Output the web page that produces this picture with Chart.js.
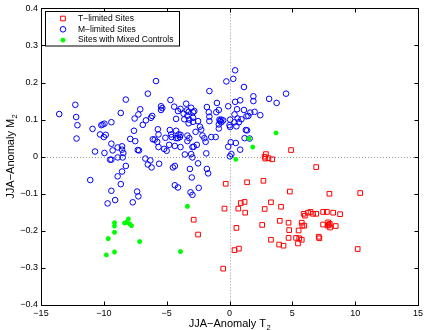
<!DOCTYPE html>
<html>
<head>
<meta charset="utf-8">
<script src="https://cdn.jsdelivr.net/npm/chart.js@4.4.1/dist/chart.umd.min.js"></script>
<style>
  body { margin: 0; background: #fff; }
  canvas { display: block; }
</style>
</head>
<body>
<canvas id="anomalyChart" width="427" height="330"></canvas>
<script>
"use strict";

// T-limited sites
const tX = [2.8, 2.9, 3.1, 3.4, 2.85, 4.9, 6.9, -0.3, 1.4, 2.7, 4.8, 7.95, 10.4, -0.4, 0.7, 0.9, 1.2, 1.25, 2.8, 3.3,
  4.1, -2.85, -2.5, 0.55, -0.5, 0.4, 0.75, 2.6, 3.3, 4.0, 3.95, 4.3, 4.7, 4.75, 4.7, 5.3, 5.5, 5.45, 5.75, 5.9,
  6.0, 5.8, 5.95, 5.75, 5.55, 6.45, 6.65, 6.9, 6.25, 7.1, 7.15, 7.45, 7.75, 8.25, 8.8, 7.45, 7.85, 7.98, 7.8, 8.0,
  8.45, 10.2, 7.9];
const tY = [0.0, 0.007, -0.004, -0.007, -0.005, 0.018, -0.028, -0.073, -0.069, -0.065, -0.094, -0.1, -0.098, -0.14, -0.14, -0.125, -0.122, -0.151, -0.141, -0.123,
  -0.135, -0.17, -0.21, -0.192, -0.302, -0.252, -0.248, -0.184, -0.224, -0.173, -0.237, -0.24, -0.178, -0.198, -0.219, -0.219, -0.199, -0.234, -0.178, -0.154,
  -0.159, -0.186, -0.186, -0.224, -0.22, -0.149, -0.154, -0.154, -0.151, -0.216, -0.22, -0.149, -0.149, -0.151, -0.155, -0.183, -0.177, -0.181, -0.186, -0.191,
  -0.187, -0.249, -0.184];

// M-limited sites
const mX = [-13.55, -12.27, -12.2, -12.1, -12.17, -10.9, -11.08, -10.7, -10.3, -10.2, -10.1, -9.95, -10.0, -9.85, -9.95, -9.7, -9.4, -9.4, -9.3, -9.5,
  -9.4, -9.4, -9.1, -8.9, -8.9, -8.9, -8.65, -8.55, -8.55, -8.45, -8.5, -8.55, -8.65, -8.25, -8.25, -7.9, -7.7, -7.6, -7.55, -7.5,
  -7.35, -7.25, -7.3, -7.2, -7.25, -7.1, -6.9, -6.65, -6.7, -6.5, -6.5, -6.25, -6.15, -6.3, -6.2, -6.1, -5.95, -5.85, -5.75, -5.65,
  -5.7, -5.65, -5.6, -5.45, -5.45, -5.35, -5.1, -5.2, -5.0, -4.7, -4.75, -4.65, -4.8, -4.6, -4.5, -4.35, -4.4, -4.25, -4.25, -4.25,
  -4.35, -4.1, -4.05, -4.1, -3.95, -3.9, -4.35, -4.1, -3.9, -3.9, -3.65, -3.6, -3.55, -3.45, -3.4, -3.35, -3.35, -3.35, -3.25, -3.25,
  -3.2, -3.2, -3.15, -3.05, -3.05, -3.0, -2.95, -2.95, -2.9, -2.9, -2.9, -2.8, -2.85, -2.95, -2.7, -2.6, -2.5, -2.5, -2.45, -2.35,
  -2.25, -2.15, -2.0, -1.9, -1.85, -1.8, -1.8, -1.7, -1.6, -1.65, -1.6, -1.6, -1.45, -1.1, -1.0, -1.05, -0.85, -0.8, -0.85, -0.85,
  -0.75, -0.65, -0.65, -0.5, -0.25, -0.1, -0.1, 0.0, 0.05, 0.05, 0.1, 0.03, 0.15, 0.3, 0.45, 0.45, 0.4, 0.4, 0.5, 0.55,
  0.6, 0.65, 0.75, 0.85, 0.85, 0.95, 1.15, 1.15, 1.2, 1.3, 1.4, 1.5, 1.6, 1.65, 1.9, 1.9, 2.0, 2.45, 3.15, 3.75,
  4.5, 1.35, -3.1];
const mY = [0.115, 0.14, 0.107, 0.085, 0.049, 0.075, -0.063, 0.014, 0.06, 0.085, 0.087, 0.089, 0.053, 0.059, 0.01, -0.126, 0.093, 0.035, 0.017, -0.008,
  -0.008, -0.092, -0.117, 0.025, -0.002, -0.053, 0.118, 0.028, 0.019, 0.01, -0.002, -0.04, -0.074, 0.154, -0.025, 0.048, -0.123, 0.07, 0.103, 0.042,
  -0.094, -0.107, 0.018, 0.017, 0.114, 0.128, 0.086, 0.098, -0.005, 0.17, -0.021, 0.105, 0.11, -0.01, -0.029, 0.047, 0.046, 0.204, 0.04, 0.06,
  0.074, 0.026, -0.019, 0.136, 0.126, 0.131, 0.051, 0.021, 0.016, 0.153, 0.072, 0.06, 0.032, 0.053, -0.029, -0.025, 0.135, 0.102, 0.07, 0.05,
  0.029, 0.123, 0.06, 0.05, 0.053, 0.026, -0.077, -0.083, 0.129, 0.059, 0.116, 0.101, 0.006, 0.143, 0.125, 0.11, 0.057, 0.042, 0.121, 0.09,
  0.1, 0.05, -0.033, 0.132, 0.007, -0.056, -0.103, 0.026, 0.12, 0.105, 0.094, 0.123, 0.027, -0.002, 0.067, 0.032, 0.096, -0.018, -0.084, 0.081,
  0.073, 0.057, 0.05, 0.04, 0.009, 0.134, -0.033, -0.045, 0.177, 0.12, 0.108, 0.096, 0.053, 0.053, 0.145, 0.12, 0.126, 0.1, 0.087, 0.076,
  0.096, 0.1, 0.093, 0.098, 0.203, 0.136, 0.027, 0.085, 0.08, 0.1, 0.039, 0.001, 0.007, 0.21, 0.233, 0.148, 0.114, 0.093, 0.037, 0.082,
  0.128, 0.103, 0.093, 0.152, 0.019, 0.101, 0.188, 0.126, 0.05, 0.072, 0.071, 0.11, 0.049, 0.119, 0.163, 0.15, 0.121, 0.112, 0.156, 0.145,
  0.17, 0.109, -0.096];

// sites with mixed controls
const gX = [3.7, 1.55, 1.85, 0.5, -3.35, -3.9, -7.15, -8.05, -8.35, -8.2, -7.95, -7.8, -9.15, -9.15, -9.15, -9.65, -9.15, -9.8];
const gY = [0.064, 0.049, 0.026, -0.007, -0.134, -0.256, -0.229, -0.168, -0.179, -0.177, -0.181, -0.186, -0.178, -0.187, -0.204, -0.221, -0.257, -0.265];

const seriesNames = ["T\u2212limited Sites", "M\u2212limited Sites", "Sites with Mixed Controls"];

const xTicks = [-15, -10, -5, 0, 5, 10, 15];
const xTickLabels = ["\u221215", "\u221210", "\u22125", "0", "5", "10", "15"];
const yTicks = [-0.4, -0.3, -0.2, -0.1, 0, 0.1, 0.2, 0.3, 0.4];
const yTickLabels = ["\u22120.4", "\u22120.3", "\u22120.2", "\u22120.1", "0", "0.1", "0.2", "0.3", "0.4"];

const FONT = "'Liberation Sans', Arial, Helvetica, sans-serif";

function toPoints(xs, ys) {
  return xs.map((x, i) => ({ x: x, y: ys[i] }));
}

const styles = [
  { pointStyle: "rect", radius: 3.3, color: "#ff0000", fill: "rgba(0,0,0,0)", width: 1 },
  { pointStyle: "circle", radius: 2.8, color: "#0000ff", fill: "rgba(0,0,0,0)", width: 1 },
  { pointStyle: "star", radius: 2.4, color: "#00ff00", fill: "#00ff00", width: 1.6 },
];

// zero lines, box, inward ticks, legend, axis titles
const matlabAxes = {
  id: "matlabAxes",
  beforeDatasetsDraw(chart) {
    const { ctx, chartArea: a, scales } = chart;
    const x0 = Math.round(scales.x.getPixelForValue(0)) + 0.5;
    const y0 = Math.round(scales.y.getPixelForValue(0)) + 0.5;
    ctx.save();
    ctx.strokeStyle = "#9a9a9a";
    ctx.lineWidth = 1;
    ctx.setLineDash([1, 2]);
    ctx.beginPath();
    ctx.moveTo(x0, a.top);
    ctx.lineTo(x0, a.bottom);
    ctx.moveTo(a.left, y0);
    ctx.lineTo(a.right, y0);
    ctx.stroke();
    ctx.restore();
  },
  afterDatasetsDraw(chart) {
    const { ctx, chartArea: a, scales } = chart;
    const L = Math.round(a.left) + 0.5, R = Math.round(a.right) + 0.5;
    const T = Math.round(a.top) + 0.5, B = Math.round(a.bottom) + 0.5;
    ctx.save();
    ctx.strokeStyle = "#000";
    ctx.lineWidth = 1;
    ctx.strokeRect(L, T, R - L, B - T);
    ctx.beginPath();
    xTicks.forEach((v) => {
      const px = Math.round(scales.x.getPixelForValue(v)) + 0.5;
      ctx.moveTo(px, B); ctx.lineTo(px, B - 4);
      ctx.moveTo(px, T); ctx.lineTo(px, T + 4);
    });
    yTicks.forEach((v) => {
      const py = Math.round(scales.y.getPixelForValue(v)) + 0.5;
      ctx.moveTo(L, py); ctx.lineTo(L + 4, py);
      ctx.moveTo(R, py); ctx.lineTo(R - 4, py);
    });
    ctx.stroke();

    // legend
    const bx = 45.5, by = 11.5, bw = 134, bh = 34.5;
    ctx.fillStyle = "#fff";
    ctx.fillRect(bx, by, bw, bh);
    ctx.strokeRect(bx, by, bw, bh);
    ctx.font = "8.5px " + FONT;
    ctx.textBaseline = "middle";
    ctx.textAlign = "left";
    seriesNames.forEach((name, i) => {
      const yy = 18.5 + i * 10.8;
      const s = styles[i];
      ctx.save();
      ctx.strokeStyle = s.color;
      ctx.fillStyle = s.fill;
      ctx.lineWidth = s.width;
      Chart.helpers.drawPoint(ctx, { pointStyle: s.pointStyle, radius: s.radius, borderWidth: s.width, rotation: 0 }, 63, yy);
      ctx.restore();
      ctx.fillStyle = "#000";
      ctx.fillText(name, 78, yy);
    });
    ctx.restore();
  },
  afterDraw(chart) {
    const { ctx, chartArea: a } = chart;
    ctx.save();
    ctx.fillStyle = "#000";
    ctx.textBaseline = "alphabetic";
    ctx.textAlign = "left";
    const big = "11px " + FONT, small = "7.5px " + FONT;

    // x title
    ctx.font = big;
    const xs = "JJA\u2212Anomaly T";
    const w1 = ctx.measureText(xs).width;
    ctx.font = small;
    const w2 = ctx.measureText("2").width;
    let sx = (a.left + a.right) / 2 - (w1 + w2) / 2;
    ctx.font = big;
    ctx.fillText(xs, sx, 326.5);
    ctx.font = small;
    ctx.fillText("2", sx + w1 + 0.5, 329.5);

    // y title
    ctx.translate(13.5, (a.top + a.bottom) / 2);
    ctx.rotate(-Math.PI / 2);
    ctx.font = big;
    const ys = "JJA\u2212Anomaly M";
    const w3 = ctx.measureText(ys).width;
    sx = -(w3 + w2) / 2;
    ctx.fillText(ys, sx, 0);
    ctx.font = small;
    ctx.fillText("2", sx + w3 + 0.5, 3);
    ctx.restore();
  },
};

const datasets = [
  { label: seriesNames[0], data: toPoints(tX, tY), order: 3 },
  { label: seriesNames[1], data: toPoints(mX, mY), order: 2 },
  { label: seriesNames[2], data: toPoints(gX, gY), order: 1 },
].map((d, i) => Object.assign(d, {
  pointStyle: styles[i].pointStyle,
  pointRadius: styles[i].radius,
  pointBorderColor: styles[i].color,
  pointBackgroundColor: styles[i].fill,
  pointBorderWidth: styles[i].width,
  showLine: false,
}));

new Chart(document.getElementById("anomalyChart").getContext("2d"), {
  type: "scatter",
  data: { datasets: datasets },
  options: {
    responsive: false,
    animation: false,
    devicePixelRatio: 1,
    layout: { padding: { left: 0, top: 7, right: 9, bottom: 0 } },
    plugins: { legend: { display: false }, tooltip: { enabled: false } },
    scales: {
      x: {
        type: "linear",
        min: -15,
        max: 15,
        afterBuildTicks: (s) => { s.ticks = xTicks.map((v) => ({ value: v })); },
        afterFit: (s) => { s.height = 25; },
        grid: { display: false, drawTicks: false },
        border: { display: false },
        ticks: {
          autoSkip: false,
          maxRotation: 0,
          padding: 3,
          color: "#000",
          font: { family: FONT, size: 9 },
          callback: (v, i) => xTickLabels[i],
        },
      },
      y: {
        type: "linear",
        min: -0.4,
        max: 0.4,
        afterBuildTicks: (s) => { s.ticks = yTicks.map((v) => ({ value: v })); },
        afterFit: (s) => { s.width = 41; },
        grid: { display: false, drawTicks: false },
        border: { display: false },
        ticks: {
          autoSkip: false,
          padding: 3,
          color: "#000",
          font: { family: FONT, size: 9 },
          callback: (v, i) => yTickLabels[i],
        },
      },
    },
  },
  plugins: [matlabAxes],
});
</script>
</body>
</html>
